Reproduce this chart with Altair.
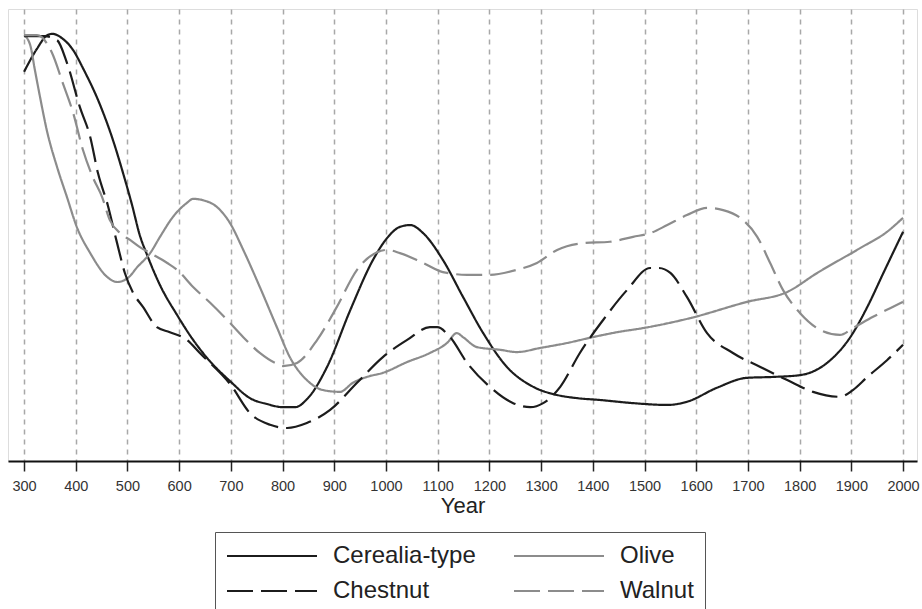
import altair as alt
import pandas as pd

# Relative pollen curves (scaled 0-100) against calendar year
cerealia_year = [300, 325, 345, 355, 375, 395, 414, 447, 472, 491, 509, 524, 538, 563, 596, 627, 654, 700, 737,
                 770, 801, 824, 849, 886, 931, 975, 1002, 1027, 1047, 1072, 1110, 1149, 1188, 1234, 1285, 1331,
                 1370, 1414, 1478, 1544, 1582, 1640, 1698, 1749, 1801, 1853, 1898, 1931, 1962, 2000]
cerealia_val = [86.1, 91.2, 94.2, 94.5, 93.4, 90.9, 86.9, 78.8, 71.0, 63.9, 56.6, 49.9, 45.6, 38.9, 32.3, 26.8,
                22.8, 17.5, 13.9, 12.6, 11.9, 11.9, 13.9, 20.8, 33.4, 44.5, 49.3, 51.8, 52.2, 50.4, 44.5, 36.3,
                28.3, 20.8, 16.4, 14.6, 13.9, 13.5, 12.8, 12.4, 13.1, 16.2, 18.4, 18.6, 19.0, 21.7, 27.4, 34.1,
                41.6, 50.7]

olive_year = [300, 312, 321, 331, 344, 364, 383, 402, 428, 461, 480, 501, 519, 544, 563, 588, 615, 627, 646,
              673, 698, 724, 756, 789, 814, 847, 878, 911, 936, 963, 994, 1041, 1085, 1118, 1137, 1149, 1176,
              1221, 1253, 1298, 1350, 1400, 1447, 1497, 1588, 1698, 1776, 1834, 1917, 1969, 2000]
olive_val = [94.2, 92.0, 86.5, 80.5, 73.2, 65.0, 58.4, 51.8, 46.0, 40.7, 39.6, 40.5, 42.9, 46.0, 49.6, 54.0,
             57.1, 58.0, 57.7, 56.2, 52.7, 46.7, 38.5, 29.6, 23.0, 17.9, 15.7, 15.3, 17.3, 18.6, 19.5, 21.9,
             23.9, 26.1, 28.3, 27.4, 25.2, 24.6, 24.1, 25.0, 26.1, 27.4, 28.5, 29.4, 31.6, 35.2, 37.4, 41.6,
             47.1, 50.7, 53.8]

chestnut_year = [300, 340, 364, 383, 408, 428, 443, 462, 480, 495, 511, 530, 557, 582, 615, 640, 700, 737, 776,
                 809, 847, 892, 944, 994, 1041, 1085, 1099, 1124, 1157, 1201, 1246, 1279, 1304, 1337, 1375, 1420,
                 1466, 1511, 1527, 1550, 1582, 1621, 1671, 1724, 1776, 1826, 1878, 1903, 1931, 1969, 2000]
chestnut_val = [94.0, 94.0, 93.1, 88.1, 78.3, 71.7, 63.7, 56.6, 48.2, 41.6, 37.2, 34.1, 29.6, 28.5, 26.8, 23.9,
                16.8, 10.6, 8.0, 7.3, 8.4, 11.3, 17.3, 23.0, 26.8, 29.6, 29.6, 27.4, 21.7, 16.4, 12.8, 11.9,
                12.8, 16.4, 23.9, 31.2, 37.8, 42.7, 42.7, 41.6, 36.3, 28.3, 23.9, 20.8, 17.9, 15.3, 14.2, 15.7,
                18.6, 22.3, 25.7]

walnut_year = [300, 325, 354, 375, 395, 414, 433, 451, 466, 486, 505, 524, 544, 577, 596, 627, 660, 693, 724,
               756, 789, 801, 828, 867, 905, 944, 983, 1002, 1027, 1072, 1110, 1157, 1201, 1253, 1292, 1331,
               1381, 1433, 1478, 1511, 1544, 1582, 1621, 1652, 1685, 1718, 1743, 1768, 1801, 1840, 1878,
               1903, 1942, 1975, 2000]
walnut_val = [94.2, 94.2, 90.3, 83.6, 77.0, 68.8, 62.8, 58.4, 53.3, 50.4, 48.9, 47.3, 46.0, 43.8, 42.3, 38.5,
              35.0, 31.2, 27.4, 23.9, 21.5, 21.0, 21.7, 26.8, 34.1, 42.3, 46.2, 46.7, 46.0, 43.8, 41.8, 41.2,
              41.2, 42.3, 43.8, 46.7, 48.2, 48.5, 49.6, 50.4, 52.2, 54.4, 56.0, 55.5, 53.8, 49.6, 43.8, 37.8,
              32.7, 29.0, 27.9, 29.4, 31.9, 33.8, 35.2]

taxa = ["Cerealia-type", "Olive", "Chestnut", "Walnut"]
taxa_colors = ["#1c1c1c", "#8c8c8c", "#1c1c1c", "#8c8c8c"]
taxa_dashes = [[1, 0], [1, 0], [26, 8], [26, 8]]
year_ticks = list(range(300, 2001, 100))

series = {
    "Cerealia-type": (cerealia_year, cerealia_val),
    "Olive": (olive_year, olive_val),
    "Chestnut": (chestnut_year, chestnut_val),
    "Walnut": (walnut_year, walnut_val),
}
rows = []
for name, (ys, vs) in series.items():
    for y, v in zip(ys, vs):
        rows.append({"taxon": name, "year": y, "value": v})
df = pd.DataFrame(rows)

FONT = "Liberation Sans"

chart = alt.Chart(df).mark_line(strokeWidth=2.2, interpolate="monotone").encode(
    x=alt.X(
        "year:Q",
        scale=alt.Scale(domain=[269, 2027], nice=False, zero=False),
        axis=alt.Axis(
            values=year_ticks,
            title="Year",
            format="d",
            grid=True,
            gridDash=[5, 5],
            gridColor="#a8a8a8",
            gridWidth=1.5,
            domainColor="#111111",
            domainWidth=1.8,
            tickColor="#222222",
            tickWidth=1.5,
            tickSize=10,
            labelFont=FONT,
            labelFontSize=14.5,
            labelColor="#333333",
            labelPadding=8,
            titleFont=FONT,
            titleFontSize=22,
            titleFontWeight="normal",
            titleColor="#222222",
            titlePadding=3,
        ),
    ),
    y=alt.Y("value:Q", scale=alt.Scale(domain=[0, 100], nice=False), axis=None),
    color=alt.Color(
        "taxon:N",
        scale=alt.Scale(domain=taxa, range=taxa_colors),
        legend=alt.Legend(
            title=None,
            orient="none",
            direction="horizontal",
            legendX=207,
            legendY=523,
            columns=2,
            values=taxa,
            symbolType="stroke",
            symbolSize=8100,
            symbolStrokeWidth=2,
            clipHeight=26,
            labelFont=FONT,
            labelFontSize=24,
            labelColor="#222222",
            labelOffset=15,
            columnPadding=37,
            rowPadding=9,
            padding=11,
            strokeColor="#555555",
            fillColor="white",
            labelLimit=400,
        ),
    ),
    strokeDash=alt.StrokeDash(
        "taxon:N",
        scale=alt.Scale(domain=taxa, range=taxa_dashes),
        legend=alt.Legend(title=None),
    ),
    order=alt.Order("year:Q"),
).properties(
    width=909,
    height=452,
    autosize=alt.AutoSizeParams(type="none"),
    padding={"left": 8, "top": 9, "right": 5, "bottom": 148},
).configure_view(
    stroke="#5a5a5a",
    strokeWidth=1.5,
).configure(
    background="white",
)

chart.save("out.html", embed_options={"renderer": "svg", "actions": False})
